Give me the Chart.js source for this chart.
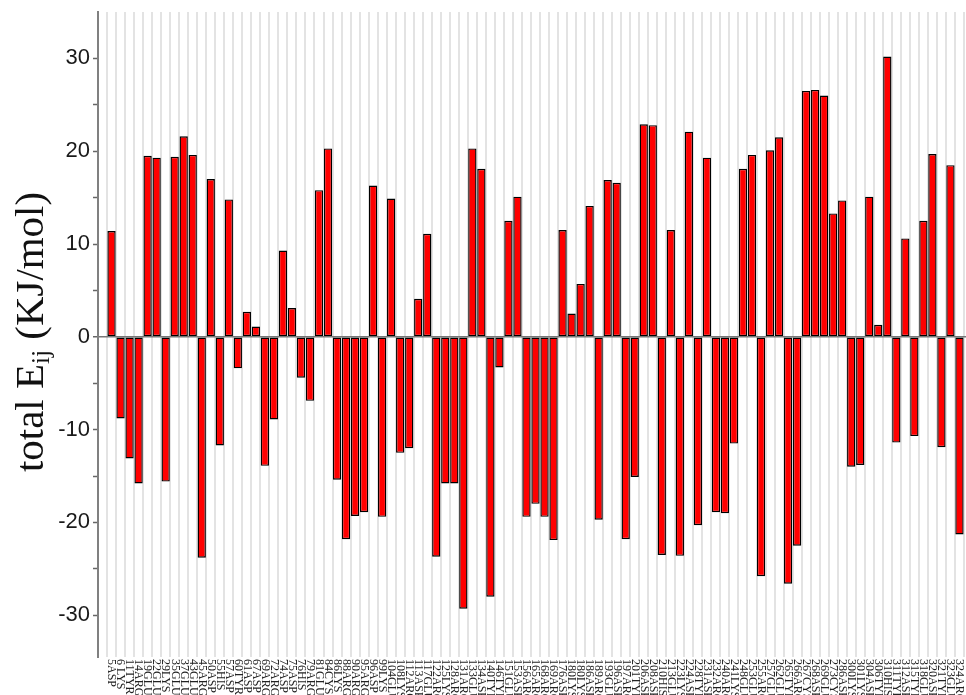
<!DOCTYPE html>
<html>
<head>
<meta charset="utf-8">
<script src="https://cdn.jsdelivr.net/npm/chart.js@4/dist/chart.umd.min.js"></script>
<style>
  html, body { margin: 0; padding: 0; background: #fff; overflow: hidden; width: 966px; height: 695px; }
  canvas { display: block; }
</style>
</head>
<body>
<canvas id="chart" width="976" height="695"></canvas>
<script>
// Residues along the x axis
const residues = [
  '5ASP', '6 LYS', '11TYR', '14ARG', '19GLU', '22GLU', '29LYS', '35GLU', '37GLU', '43GLU',
  '45ARG', '50ASP', '55HIS', '57ASP', '60TYR', '61ASP', '67ASP', '69ARG', '72ARG', '74ASP',
  '75ASP', '76HIS', '79ARG', '81GLU', '84CYS', '86LYS', '88ARG', '90ARG', '95ARG', '96ASP',
  '99LYS', '104GLU', '108LYS', '112ARG', '113ASP', '117GLU', '122ARG', '125LYS', '128ARG', '131ARG',
  '133GLU', '134ASP', '140TYR', '146TYR', '151GLU', '153ASP', '156ARG', '165ARG', '168ARG', '169ARG',
  '176ASP', '180LYS', '180LYS', '186ASP', '189ARG', '193GLU', '196ASP', '197ARG', '201TYR', '206ASP',
  '208ASP', '210HIS', '213GLU', '223LYS', '224ASP', '228TYR', '231ASP', '232ARG', '240ARG', '241LYS',
  '248GLU', '253GLU', '255ARG', '257GLU', '262GLU', '265TYR', '266ARG', '267CYS', '268ASP', '269GLU',
  '273CYS', '286ASP', '300LYS', '301LYS', '304ASP', '306TYR', '310HIS', '311TYR', '312ASP', '315TYR',
  '318GLU', '320ASP', '321TYR', '323GLU', '324ARG'
];

// Total interaction energy per residue, KJ/mol
const totalEij = [
  11.4, -8.8, -13.1, -15.8, 19.5, 19.3, -15.6, 19.4, 21.6, 19.6,
  -23.8, 17.0, -11.7, 14.8, -3.4, 2.7, 1.1, -13.9, -8.9, 9.3,
  3.1, -4.4, -6.9, 15.8, 20.3, -15.4, -21.8, -19.3, -18.9, 16.3,
  -19.4, 14.9, -12.5, -12.0, 4.1, 11.1, -23.7, -15.8, -15.8, -29.3,
  20.3, 18.1, -28.0, -3.3, 12.5, 15.1, -19.4, -18.0, -19.4, -21.9,
  11.5, 2.5, 5.7, 14.1, -19.7, 16.9, 16.6, -21.8, -15.1, 22.9,
  22.8, -23.5, 11.5, -23.6, 22.1, -20.3, 19.3, -18.9, -19.0, -11.5,
  18.1, 19.6, -25.8, 20.1, 21.5, -26.6, -22.5, 26.5, 26.6, 26.0,
  13.3, 14.7, -14.0, -13.8, 15.1, 1.3, 30.2, -11.4, 10.6, -10.7,
  12.5, 19.7, -11.9, 18.5, -21.3
];

// Labelled y ticks
const yTickLabels = [30, 20, 10, 0, -10, -20, -30];

// Residue names, rotated to read top-to-bottom under each bar
const residueLabels = {
  id: 'residueLabels',
  afterDraw(chart) {
    const { ctx, chartArea } = chart;
    const xs = chart.scales.x;
    ctx.save();
    ctx.font = '12px "Liberation Serif", "Times New Roman", serif';
    ctx.fillStyle = '#222';
    ctx.textAlign = 'left';
    ctx.textBaseline = 'middle';
    residues.forEach((name, i) => {
      const x = xs.getPixelForValue(i + 1);
      ctx.save();
      ctx.translate(x, chartArea.bottom + 2);
      ctx.rotate(Math.PI / 2);
      ctx.fillText(name, 0, 0);
      ctx.restore();
    });
    ctx.restore();
  }
};

// Y axis title with subscript "ij"
const yTitle = {
  id: 'yTitle',
  afterDraw(chart) {
    const { ctx } = chart;
    const size = 40;
    const main = size + 'px "Liberation Serif", "Times New Roman", serif';
    const sub = Math.round(size * 0.62) + 'px "Liberation Serif", "Times New Roman", serif';
    const parts = [
      { t: 'total E', f: main, dy: 0 },
      { t: 'ij', f: sub, dy: size * 0.14 },
      { t: ' (KJ/mol)', f: main, dy: 0 }
    ];
    let total = 0;
    parts.forEach(p => { ctx.font = p.f; p.w = ctx.measureText(p.t).width; total += p.w; });
    const span = 280;
    const sx = span / total;
    ctx.save();
    ctx.translate(43, 332);
    ctx.rotate(-Math.PI / 2);
    ctx.scale(sx, 1);
    ctx.fillStyle = '#111';
    ctx.textBaseline = 'alphabetic';
    ctx.textAlign = 'left';
    let x = -total / 2;
    parts.forEach(p => {
      ctx.font = p.f;
      ctx.fillText(p.t, x, p.dy);
      x += p.w;
    });
    ctx.restore();
  }
};

new Chart(document.getElementById('chart'), {
  type: 'bar',
  data: {
    datasets: [{
      data: totalEij.map((v, i) => ({ x: i + 1, y: v })),
      backgroundColor: '#ff0000',
      borderColor: '#000000',
      borderWidth: 1.4,
      borderSkipped: false,
      barPercentage: 0.92,
      categoryPercentage: 1.0
    }]
  },
  options: {
    responsive: false,
    animation: false,
    events: [],
    layout: { padding: { left: 0, right: 3, top: 12, bottom: 38 } },
    plugins: {
      legend: { display: false },
      tooltip: { enabled: false }
    },
    scales: {
      x: {
        type: 'linear',
        min: 0,
        max: 96,
        ticks: { display: false, stepSize: 1 },
        grid: { color: '#e3e3e3', lineWidth: 2, drawTicks: false },
        border: { display: false }
      },
      y: {
        min: -34.5,
        max: 35,
        afterFit(scale) {
          scale.width = 98;
          scale.paddingTop = 0;
          scale.paddingBottom = 0;
        },
        afterBuildTicks(scale) {
          scale.ticks = [];
          for (let v = -30; v <= 30; v += 5) scale.ticks.push({ value: v });
        },
        ticks: {
          stepSize: 5,
          padding: 3,
          color: '#1a1a1a',
          font: { family: '"Liberation Sans", Arial, sans-serif', size: 22 },
          callback: v => (yTickLabels.includes(v) ? String(v) : '')
        },
        grid: {
          drawOnChartArea: true,
          color: c => (c.tick && c.tick.value === 0 ? '#777777' : 'rgba(0,0,0,0)'),
          lineWidth: c => (c.tick && c.tick.value === 0 ? 1.5 : 1),
          tickColor: '#666666',
          tickLength: 5,
          tickWidth: 1.5
        },
        border: { display: true, color: '#808080', width: 2 }
      }
    }
  },
  plugins: [residueLabels, yTitle]
});
</script>
</body>
</html>
